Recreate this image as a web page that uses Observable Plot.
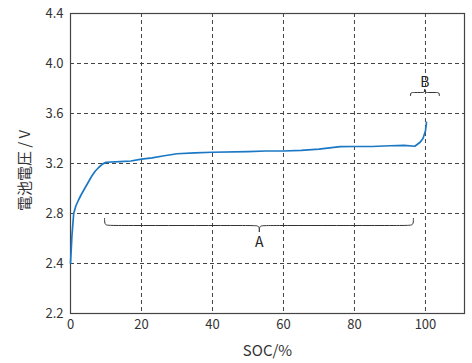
<!DOCTYPE html>
<html><head><meta charset="utf-8">
<script src="https://cdn.jsdelivr.net/npm/d3@7"></script>
<script src="https://cdn.jsdelivr.net/npm/@observablehq/plot@0.6"></script>
<style>body{margin:0;background:#fff}</style>
</head><body><div id="chart"></div>
<script>
// SOC (%) and battery voltage (V)
const soc = [0, 0.4, 0.9, 1.5, 2.3, 3.0, 4.0, 5.0, 6.0, 7.0, 8.0, 9.0, 10.0, 14, 17, 20, 23, 26, 30, 35, 40, 50, 55, 60, 65, 70, 73, 76, 80, 85, 90, 94, 97, 98.5, 99.3, 100, 100.3];
const volt = [2.40, 2.62, 2.80, 2.86, 2.91, 2.95, 3.00, 3.05, 3.10, 3.14, 3.17, 3.195, 3.21, 3.215, 3.22, 3.235, 3.245, 3.26, 3.278, 3.285, 3.29, 3.295, 3.30, 3.30, 3.305, 3.315, 3.325, 3.335, 3.336, 3.336, 3.342, 3.345, 3.338, 3.37, 3.40, 3.46, 3.53];

const xTicks = [0, 20, 40, 60, 80, 100];
const yTicks = [2.0, 2.4, 2.8, 3.2, 3.6, 4.0, 4.4];
const yTickLabels = ["2.2", "2.4", "2.8", "3.2", "3.6", "4.0", "4.4"];
const xGrid = [20, 40, 60, 80, 100];
const yGrid = [2.4, 2.8, 3.2, 3.6, 4.0];
const xTitle = "SOC/%";
const yTitle = "電池電圧 / V";

// braces: label, start, end, centre, line level, end level, tip level
const braceLabels = ["A", "B"];
const braceStart = [9.6, 95.8];
const braceEnd = [96.6, 103.9];
const braceMid = [53.2, 99.8];
const braceLine = [2.704, 3.768];
const braceEndLevel = [2.76, 3.744];
const braceTip = [2.656, 3.792];
const braceLabelLevel = [2.57, 3.85];

const curve = soc.map((s, i) => ({x: s, y: volt[i]}));

const braceParts = [];
braceLabels.forEach((b, i) => {
  const x1 = braceStart[i], x2 = braceEnd[i], xc = braceMid[i];
  const yl = braceLine[i], ye = braceEndLevel[i], yt = braceTip[i];
  const r = (x2 - x1) * 0.04 > 1.6 ? 1.6 : (x2 - x1) * 0.12;
  braceParts.push([[x1, ye], [x1, yl], [x1 + r, yl], [xc - r, yl], [xc, yl], [xc, yt]].map(p => ({x: p[0], y: p[1], k: b + "L"})));
  braceParts.push([[x2, ye], [x2, yl], [x2 - r, yl], [xc + r, yl], [xc, yl], [xc, yt]].map(p => ({x: p[0], y: p[1], k: b + "R"})));
});
const braceData = braceParts.flat();
const braceText = braceLabels.map((b, i) => ({x: braceMid[i], y: braceLabelLevel[i], t: b}));

const font = "'Noto Sans CJK JP', 'Noto Sans', sans-serif";
const chart = Plot.plot({
  width: 472, height: 363,
  marginLeft: 70, marginRight: 8, marginTop: 13, marginBottom: 50,
  style: {fontFamily: font, fontSize: "13px", color: "#333", background: "#fff"},
  x: {domain: [0, 111], ticks: xTicks, tickSize: 0, tickPadding: 6, label: null},
  y: {domain: [2.0, 4.4], ticks: yTicks, tickSize: 0, tickPadding: 7, tickFormat: d => yTickLabels[yTicks.indexOf(d)], label: null},
  marks: [
    Plot.ruleX(xGrid, {stroke: "#444", strokeDasharray: "4,3", strokeWidth: 1}),
    Plot.ruleY(yGrid, {stroke: "#444", strokeDasharray: "4,3", strokeWidth: 1}),
    Plot.frame({stroke: "#444", strokeWidth: 1.2}),
    Plot.line(curve, {x: "x", y: "y", stroke: "#1b78c4", strokeWidth: 1.7}),
    Plot.line(braceData, {x: "x", y: "y", z: "k", curve: "basis", stroke: "#333", strokeWidth: 1}),
    Plot.text(braceText, {x: "x", y: "y", text: "t", fontSize: 14, fill: "#222"}),
    Plot.text([xTitle], {frameAnchor: "bottom", dy: 42, fontSize: 15, fill: "#333"}),
    Plot.text([yTitle], {frameAnchor: "middle", rotate: -90, dx: -242, dy: 7, fontSize: 15, fill: "#333"})
  ]
});
document.getElementById("chart").appendChild(chart);
</script></body></html>
